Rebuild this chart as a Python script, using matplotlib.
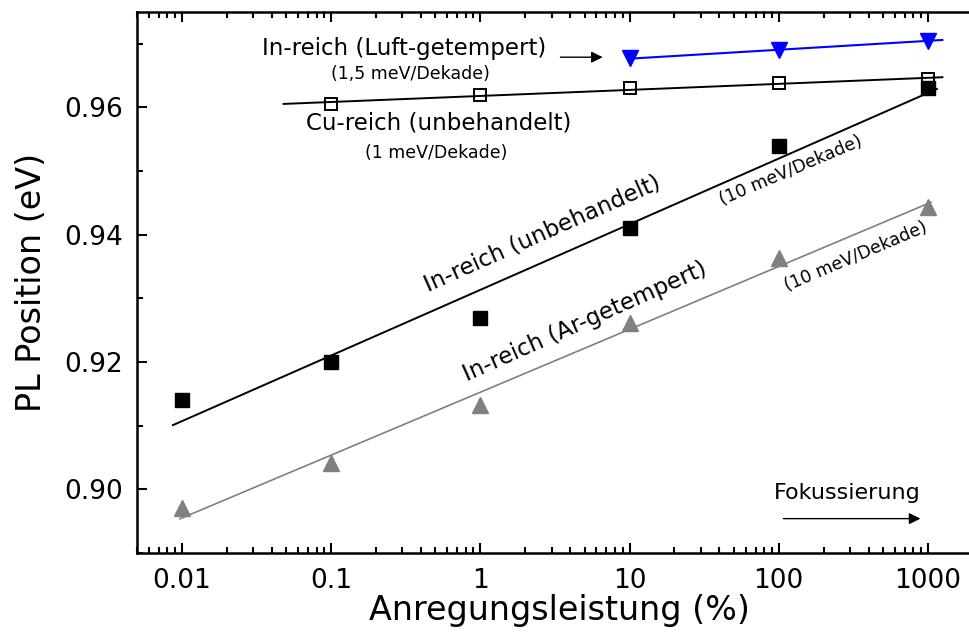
import matplotlib.pyplot as plt
import numpy as np
from matplotlib.ticker import MultipleLocator, LogLocator, FixedLocator, FixedFormatter, NullFormatter

plt.rcParams['font.family'] = ['DejaVu Sans']
plt.rcParams['savefig.bbox'] = 'standard'

# DATA
power = [0.01, 0.1, 1, 10, 100, 1000]
in_unbeh = [0.914, 0.920, 0.927, 0.941, 0.954, 0.963]
in_ar = [0.897, 0.9042, 0.9132, 0.9262, 0.9363, 0.9443]
power_cu = [0.1, 1, 10, 100, 1000]
cu_unbeh = [0.9606, 0.9619, 0.9631, 0.9638, 0.9644]
power_luft = [10, 100, 1000]
in_luft = [0.9677, 0.9690, 0.9705]

xticks = [0.01, 0.1, 1, 10, 100, 1000]
xticklabels = ['0.01', '0.1', '1', '10', '100', '1000']
yticks = [0.90, 0.92, 0.94, 0.96]

# x range covered by each fit line
range_in_unbeh = [0.0087, 1150]
range_in_ar = [0.0097, 1050]
range_cu = [0.048, 1250]
range_luft = [10, 1250]


def fit_line(x, y, xr):
    k, d = np.polyfit(np.log10(x), y, 1)
    xs = np.array(xr)
    return xs, k * np.log10(xs) + d


fig = plt.figure(figsize=(9.69, 6.33), dpi=100)
# right spine sits just outside the picture, as in the original
ax = fig.add_axes([137/969, 80/633, 845/969, 541/633])

###FIT LINES
xs, ys = fit_line(power, in_unbeh, range_in_unbeh)
ax.plot(xs, ys, color='black', lw=1.4)
xs, ys = fit_line(power, in_ar, range_in_ar)
ax.plot(xs, ys, color='#808080', lw=1.2)
xs, ys = fit_line(power_cu, cu_unbeh, range_cu)
ax.plot(xs, ys, color='black', lw=1.4)
xs, ys = fit_line(power_luft, in_luft, range_luft)
ax.plot(xs, ys, color='blue', lw=1.5)

###POINTS
ax.plot(power, in_unbeh, 's', color='black', ms=10)
ax.plot(power, in_ar, '^', color='#808080', ms=11)
ax.plot(power_cu, cu_unbeh, 's', mfc='none', mec='black', mew=1.4, ms=9)
ax.plot(power_luft, in_luft, 'v', color='blue', ms=11)

###LABELS
big = 16.5
small = 12.5
ax.text(0.31, 0.9693, 'In-reich (Luft-getempert)', fontsize=big, ha='center', va='center')
ax.text(0.34, 0.9653, '(1,5 meV/Dekade)', fontsize=small, ha='center', va='center')
ax.text(0.53, 0.9576, 'Cu-reich (unbehandelt)', fontsize=big, ha='center', va='center')
ax.text(0.51, 0.9528, '(1 meV/Dekade)', fontsize=small, ha='center', va='center')
ax.text(2.6, 0.9402, 'In-reich (unbehandelt)', fontsize=big, ha='center', va='center',
        rotation=24, rotation_mode='anchor')
ax.text(120, 0.9501, '(10 meV/Dekade)', fontsize=small, ha='center', va='center',
        rotation=23, rotation_mode='anchor')
ax.text(5.0, 0.9264, 'In-reich (Ar-getempert)', fontsize=big, ha='center', va='center',
        rotation=24, rotation_mode='anchor')
ax.text(330, 0.9366, '(10 meV/Dekade)', fontsize=small, ha='center', va='center',
        rotation=23, rotation_mode='anchor')
ax.text(286, 0.8995, 'Fokussierung', fontsize=16, ha='center', va='center')

ax.annotate('', xy=(6.9, 0.9679), xytext=(3.3, 0.9679),
            arrowprops=dict(arrowstyle='-|>', color='black', lw=1, mutation_scale=17))
ax.annotate('', xy=(930, 0.8954), xytext=(103, 0.8954),
            arrowprops=dict(arrowstyle='-|>', color='black', lw=1, mutation_scale=17))

###AXES
ax.set_xscale('log')
# keep ~149 px per decade with the wider box
ax.set_xlim(0.005, 0.005 * 10 ** (845 / 149.2))
ax.set_ylim(0.89, 0.975)
ax.xaxis.set_major_locator(FixedLocator(xticks))
ax.xaxis.set_major_formatter(FixedFormatter(xticklabels))
ax.xaxis.set_minor_locator(LogLocator(base=10, subs=np.arange(2, 10)))
ax.xaxis.set_minor_formatter(NullFormatter())
ax.yaxis.set_major_locator(FixedLocator(yticks))
ax.yaxis.set_major_formatter(FixedFormatter(['%.2f' % v for v in yticks]))
ax.yaxis.set_minor_locator(MultipleLocator(0.01))

ax.tick_params(which='both', direction='in', top=True, right=True, width=1.5, labelsize=19)
ax.tick_params(which='major', length=7)
ax.tick_params(which='minor', length=4)
ax.tick_params(axis='x', pad=11)
ax.tick_params(axis='y', pad=10)
for s in ax.spines.values():
    s.set_linewidth(1.8)

ax.set_xlabel('Anregungsleistung (%)', fontsize=24, labelpad=0)
ax.set_ylabel('PL Position (eV)', fontsize=24, labelpad=12)

fig.savefig('out.png', dpi=100)
